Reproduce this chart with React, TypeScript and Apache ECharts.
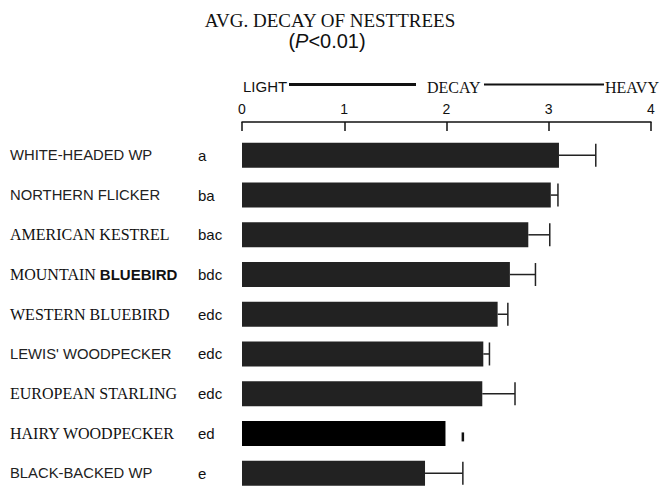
import React, { useEffect, useRef } from 'react';
import * as echarts from 'echarts';

const species = [
  'WHITE-HEADED WP',
  'NORTHERN FLICKER',
  'AMERICAN KESTREL',
  'MOUNTAIN BLUEBIRD',
  'WESTERN BLUEBIRD',
  "LEWIS' WOODPECKER",
  'EUROPEAN STARLING',
  'HAIRY WOODPECKER',
  'BLACK-BACKED WP',
];
const groups = ['a', 'ba', 'bac', 'bdc', 'edc', 'edc', 'edc', 'ed', 'e'];
const meanDecay = [3.1, 3.02, 2.8, 2.62, 2.5, 2.36, 2.35, 1.99, 1.79];
const upperError = [3.46, 3.09, 3.01, 2.87, 2.6, 2.42, 2.67, 2.16, 2.16];
const scaleLabels = ['LIGHT', 'DECAY', 'HEAVY'];
const titleText = 'AVG. DECAY OF NESTTREES';

const SERIF = '"Liberation Serif", "Times New Roman", serif';
const SANS = '"Liberation Sans", Arial, sans-serif';
const serifNames = new Set([
  'AMERICAN KESTREL',
  'WESTERN BLUEBIRD',
  'EUROPEAN STARLING',
  'HAIRY WOODPECKER',
]);

export default function App() {
  const ref = useRef<HTMLDivElement>(null);
  useEffect(() => {
    if (!ref.current) return;
    const chart = echarts.init(ref.current, undefined, { renderer: 'svg' });
    const errData = species.map((_, i) => [i, meanDecay[i], upperError[i]]);
    chart.setOption({
      animation: false,
      backgroundColor: '#ffffff',
      grid: { left: 242, right: 16, top: 135.5, height: 364.5, containLabel: false },
      xAxis: {
        type: 'value',
        min: 0,
        max: 4,
        interval: 1,
        position: 'top',
        offset: 13.5,
        axisLine: { show: true, lineStyle: { color: '#111', width: 1.5 } },
        axisTick: { show: true, inside: true, length: 9, lineStyle: { color: '#111', width: 1.5 } },
        splitLine: { show: false },
        axisLabel: { color: '#111', fontFamily: SANS, fontSize: 14, margin: 6 },
      },
      yAxis: [
        {
          type: 'category',
          data: species,
          inverse: true,
          position: 'left',
          offset: 0,
          axisLine: { show: false },
          axisTick: { show: false },
          axisLabel: {
            align: 'left',
            margin: 232,
            formatter: (v: string) => {
              if (v === 'MOUNTAIN BLUEBIRD') return '{s|MOUNTAIN }{b|BLUEBIRD}';
              return serifNames.has(v) ? `{s|${v}}` : `{n|${v}}`;
            },
            rich: {
              s: { fontFamily: SERIF, fontSize: 16, color: '#111' },
              n: { fontFamily: SANS, fontSize: 14.8, color: '#222' },
              b: { fontFamily: SANS, fontSize: 15, color: '#111', fontWeight: 'bold' },
            },
          },
        },
        {
          type: 'category',
          data: groups.map((g, i) => `${i}:${g}`),
          inverse: true,
          position: 'left',
          offset: 0,
          axisLine: { show: false },
          axisTick: { show: false },
          axisLabel: {
            align: 'left',
            margin: 44,
            fontFamily: SANS,
            fontSize: 15,
            color: '#111',
            formatter: (v: string) => v.split(':')[1],
          },
        },
      ],
      series: [
        {
          type: 'bar',
          yAxisIndex: 0,
          barWidth: 25,
          data: meanDecay.map((v, i) => ({
            value: v,
            itemStyle: { color: i === 7 ? '#000000' : '#222222' },
          })),
        },
        {
          type: 'custom',
          yAxisIndex: 0,
          encode: { x: [1, 2], y: 0 },
          data: errData,
          renderItem: (params: any, api: any) => {
            const idx = api.value(0);
            const p0 = api.coord([api.value(1), idx]);
            const p1 = api.coord([api.value(2), idx]);
            const style = { stroke: '#222', lineWidth: 1.5 };
            if (idx === 7) {
              return {
                type: 'line',
                shape: { x1: p1[0], y1: p1[1] - 1, x2: p1[0], y2: p1[1] + 8 },
                style: { stroke: '#111', lineWidth: 2.5 },
              };
            }
            return {
              type: 'group',
              children: [
                { type: 'line', shape: { x1: p0[0], y1: p0[1], x2: p1[0], y2: p1[1] }, style },
                { type: 'line', shape: { x1: p1[0], y1: p1[1] - 11.5, x2: p1[0], y2: p1[1] + 11.5 }, style },
              ],
            };
          },
        },
      ],
      graphic: [
        {
          type: 'text',
          x: 330,
          y: 20,
          style: { text: titleText, font: `19px ${SERIF}`, fill: '#111', align: 'center', verticalAlign: 'middle' },
        },
        {
          type: 'text',
          x: 327,
          y: 41,
          style: {
            text: '({i|P}<0.01)',
            font: `20px ${SANS}`,
            fill: '#111',
            align: 'center',
            verticalAlign: 'middle',
            rich: { i: { fontStyle: 'italic', fontFamily: SANS, fontSize: 20, fill: '#111' } },
          },
        },
        {
          type: 'text',
          x: 243,
          y: 86,
          style: { text: scaleLabels[0], font: `15px ${SANS}`, fill: '#111', align: 'left', verticalAlign: 'middle' },
        },
        {
          type: 'line',
          shape: { x1: 289, y1: 84.5, x2: 416, y2: 84.5 },
          style: { stroke: '#111', lineWidth: 3 },
        },
        {
          type: 'text',
          x: 427,
          y: 87,
          style: { text: scaleLabels[1], font: `16px ${SERIF}`, fill: '#111', align: 'left', verticalAlign: 'middle' },
        },
        {
          type: 'line',
          shape: { x1: 484, y1: 84.5, x2: 604, y2: 84.5 },
          style: { stroke: '#111', lineWidth: 2 },
        },
        {
          type: 'text',
          x: 605,
          y: 87,
          style: { text: scaleLabels[2], font: `16px ${SERIF}`, fill: '#111', align: 'left', verticalAlign: 'middle' },
        },
      ],
    });
    return () => chart.dispose();
  }, []);
  return (
    <div
      ref={ref}
      style={{ position: 'fixed', left: 0, top: 0, width: 667, height: 493, background: '#fff' }}
    />
  );
}
